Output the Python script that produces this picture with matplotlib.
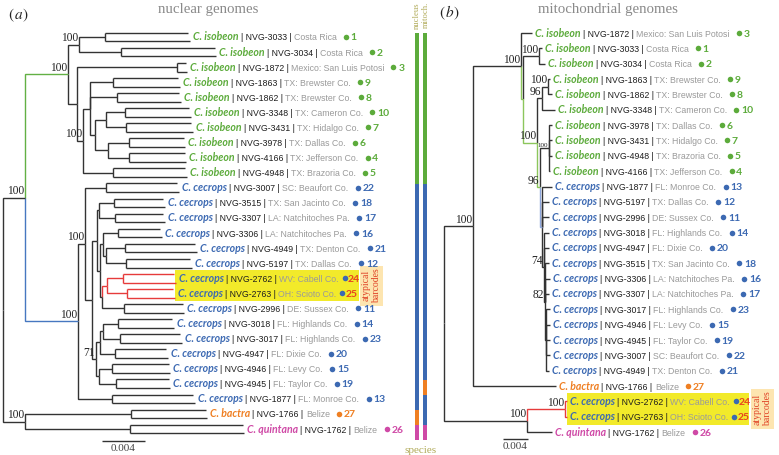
import matplotlib
matplotlib.use("Agg")
import matplotlib.pyplot as plt
from matplotlib.patches import Rectangle

plt.rcParams['mathtext.fontset'] = 'stix'

# ------------------------------------------------------------------ data
SPECIMENS = ["3033", "3034", "1872", "1863", "1862", "3348", "3431", "3978", "4166", "4948",
             "3007", "3515", "3307", "3306", "4949", "5197", "2762", "2763", "2996", "3018",
             "3017", "4947", "4946", "4945", "1877", "1766", "1762"]
SPECIES = ["C. isobeon"] * 10 + ["C. cecrops"] * 15 + ["C. bactra", "C. quintana"]
LOCATIONS = ["Costa Rica", "Costa Rica", "Mexico: San Luis Potosi", "TX: Brewster Co.",
             "TX: Brewster Co.", "TX: Cameron Co.", "TX: Hidalgo Co.", "TX: Dallas Co.",
             "TX: Jefferson Co.", "TX: Brazoria Co.", "SC: Beaufort Co.", "TX: San Jacinto Co.",
             "LA: Natchitoches Pa.", "LA: Natchitoches Pa.", "TX: Denton Co.", "TX: Dallas Co.",
             "WV: Cabell Co.", "OH: Scioto Co.", "DE: Sussex Co.", "FL: Highlands Co.",
             "FL: Highlands Co.", "FL: Dixie Co.", "FL: Levy Co.", "FL: Taylor Co.",
             "FL: Monroe Co.", "Belize", "Belize"]
MAP_NUMBERS = [1, 2, 3, 9, 8, 10, 7, 6, 4, 5, 22, 18, 17, 16, 21, 12, 24, 25, 11, 14,
               23, 20, 15, 19, 13, 27, 26]
ATYPICAL = ["2762", "2763"]

# depths in units of 0.001 substitutions/site
# nuclear tree tips: (node of the two phased haplotypes, tip a, tip b)
NUC_TIPS = {
    "3033": (9.49, 17.20, 17.39), "3034": (10.97, 19.70, 19.81), "1872": (16.18, 17.00, 17.11),
    "1863": (10.23, 16.30, 16.46), "1862": (10.60, 16.40, 16.55), "3348": (11.35, 17.30, 17.48),
    "3431": (11.44, 17.50, 17.67), "3978": (11.72, 16.80, 16.93), "4166": (11.72, 16.90, 17.02),
    "4948": (10.23, 16.95, 17.11), "3007": (9.58, 16.20, 16.37), "3515": (10.32, 14.90, 15.07),
    "3307": (10.42, 14.90, 15.07), "3306": (10.70, 14.60, 14.79), "4949": (11.35, 17.90, 18.04),
    "5197": (11.44, 17.40, 17.58), "2762": (11.16, 15.90, 16.09), "2763": (11.53, 15.85, 16.00),
    "2996": (11.25, 16.70, 16.83), "3018": (10.70, 15.75, 15.90), "3017": (10.88, 16.50, 16.65),
    "4947": (10.42, 15.20, 15.35), "4946": (10.14, 15.40, 15.53), "4945": (10.51, 15.40, 15.53),
    "1877": (10.14, 17.70, 17.86), "1766": (11.90, 18.85, 18.97), "1762": (11.81, 22.30, 22.41),
}
# internal node: (depth, bootstrap, highlighted branch, children)
NUC_TREE = (0.0, None, None, [
    (2.05, 100, None, [
        (6.05, 100, "green", [
            (7.07, 100, None, ["3033", "3034"]),
            (6.88, None, None, ["1872",
                (7.44, 100, None, [
                    (8.09, None, None, ["1863", "1862",
                        (8.56, None, None, [
                            (9.58, None, None, ["3348", "3431"]),
                            (9.77, None, None, ["3978", "4166"])])]),
                    "4948"])])]),
        (6.98, 100, "blue", [
            (7.63, 100, None, ["3007",
                (8.28, None, None, [
                    (8.74, None, None, [
                        (8.93, None, None, ["3515", "3307"]),
                        (9.02, None, None, [
                            (9.30, None, None, ["3306", (9.58, None, None, ["4949", "5197"])]),
                            (9.21, None, None, [(9.67, None, "red", ["2762", "2763"]), "2996"])])]),
                    (8.65, 71, None, [
                        (9.02, None, None, [(9.30, None, None, ["3018", "3017"]), "4947"]),
                        (8.93, None, None, ["4946", "4945"])])])]),
            "1877"])]),
    (2.05, 100, None, ["1766", "1762"])])

# mitochondrial tree tips: tip depth
MITO_TIPS = {
    "1872": 14.08, "3033": 15.68, "3034": 16.16, "1863": 16.96, "1862": 17.28, "3348": 17.76,
    "3978": 17.28, "3431": 17.28, "4948": 17.28, "4166": 16.96, "1877": 17.28, "5197": 16.80,
    "2996": 16.80, "3018": 16.80, "4947": 16.80, "3515": 16.80, "3306": 16.96, "3307": 16.80,
    "3017": 16.96, "4946": 16.96, "4945": 16.96, "3007": 16.96, "4949": 16.80, "1766": 17.92,
    "2762": 19.68, "2763": 19.68, "1762": 17.28,
}
MITO_TREE = (0.0, None, None, [
    (4.64, 100, None, [
        (12.32, 100, None, ["1872",
            (12.64, None, "green", [
                (15.20, 100, None, ["3033", "3034"]),
                (14.88, 100, "green", [
                    (15.68, 96, None, [(16.64, 100, None, ["1863", "1862"]), "3348"]),
                    (15.36, 96, "green", [
                        (16.80, 100, None, ["3978", "3431", "4948", "4166"], "small"),
                        (15.60, None, "blue", ["1877", "5197", "2996",
                            (15.92, 74, None, ["3018", "4947",
                                (16.16, 82, None, ["3515", "3306", "3307",
                                    (16.32, None, None, ["3017", "4946", "4945", "3007", "4949"])])])])])])])]),
        "1766"]),
    (13.28, 100, None, [(19.36, 100, "red", ["2762", "2763"]), "1762"])])

SCALE_LEN = 4.0   # 0.004 substitutions/site

# ------------------------------------------------------------------ style
SP_COL = {"C. isobeon": "#5cab3b", "C. cecrops": "#3c69b2", "C. bactra": "#ef7f22",
          "C. quintana": "#cf49a6"}
NUM_RED = "#e8421e"
LINE = "#333333"
PAL_L = {None: LINE, "green": "#62b044", "blue": "#4677c0", "red": "#e63b3b"}
PAL_R = {None: LINE, "green": "#8cc65c", "blue": "#8ea6db", "red": "#e63b3b"}

W, H = 779, 455
fig = plt.figure(figsize=(W / 100, H / 100), dpi=100)
axP = fig.add_axes([0, 0, 1, 1])
axP.set_xlim(0, W); axP.set_ylim(H, 0); axP.set_axis_off()
axL = fig.add_axes([0, 0, 1, 1]); axL.set_axis_off()
axR = fig.add_axes([0, 0, 1, 1]); axR.set_axis_off()

# layout: left tree root at px 3, 43 px per 0.004 ; rows from 37 px every 15.08 px
L_U, L_X0, L_Y0, L_DY = 4.0 / 43, 3, 37, 15.08
R_U, R_X0, R_Y0, R_DY = 4.0 / 25, 444, 33, 15.35
axL.set_xlim(-L_X0 * L_U, (W - L_X0) * L_U); axL.set_ylim((H - L_Y0) / L_DY, -L_Y0 / L_DY)
axR.set_xlim(-R_X0 * R_U, (W - R_X0) * R_U); axR.set_ylim((H - R_Y0) / R_DY, -R_Y0 / R_DY)

rend = fig.canvas.get_renderer()


def to_px(ax, x, y):
    X, Y = ax.transData.transform((x, y))
    return X, H - Y


def leaves_of(n):
    if isinstance(n, str):
        return [n]
    out = []
    for k in n[3]:
        out += leaves_of(k)
    return out


def draw_tree(ax, tree, pal, tip_depth, draw_tip, sup_size):
    order = leaves_of(tree)
    row = {s: i for i, s in enumerate(order)}
    tip_ends = {}

    def rec(n):
        if isinstance(n, str):
            return row[n]
        depth, sup, col, kids = n[:4]
        ys = [rec(k) for k in kids]
        y = (ys[0] + ys[-1]) / 2
        for k, yk in zip(kids, ys):
            if isinstance(k, str):
                kd = tip_depth(k)
                c = pal["red"] if (k in ATYPICAL and col == "red") else pal[None]
            else:
                kd = k[0]
                c = pal[k[2]] if k[2] else pal[None]
            ax.plot([depth, depth, kd], [y, yk, yk], color=c, lw=1.0,
                    solid_joinstyle="miter", solid_capstyle="butt")
            if isinstance(k, str):
                tip_ends[k] = draw_tip(ax, k, yk, c)
        if sup is not None:
            small = len(n) > 4
            ax.annotate(str(sup), xy=(depth, y), xytext=(-0.8, 0.3), textcoords="offset points",
                        ha="right", va="bottom", fontsize=(5.0 if small else sup_size),
                        family="Liberation Serif", color="#222222")
        return y

    rec(tree)
    return order, row, tip_ends


def nuc_tip(ax, k, y, c):
    node, a, b = NUC_TIPS[k]
    off = 0.29
    ax.plot([node, node], [y - off, y + off], color=c, lw=1.0, solid_capstyle="butt")
    ax.plot([node, a], [y - off, y - off], color=c, lw=1.0, solid_capstyle="butt")
    ax.plot([node, b], [y + off, y + off], color=c, lw=1.0, solid_capstyle="butt")
    return max(a, b)


def mito_tip(ax, k, y, c):
    return MITO_TIPS[k]


orderL, rowL, endsL = draw_tree(axL, NUC_TREE, PAL_L, lambda k: NUC_TIPS[k][0], nuc_tip, 8.3)
orderR, rowR, endsR = draw_tree(axR, MITO_TREE, PAL_R, lambda k: MITO_TIPS[k], mito_tip, 8.3)


# ------------------------------------------------------------------ labels
def leaf_label(x, y, sid):
    k = SPECIMENS.index(sid)
    sp = SPECIES[k]
    col = SP_COL[sp]
    base = y + 3.5
    t = axP.text(x, base, sp, color=col, family="Lato", weight="bold", style="italic",
                 fontsize=7.6, va="baseline", zorder=5)
    x = t.get_window_extent(rend).x1 + 2.2
    t = axP.text(x, base, "| NVG-%s |" % sid, color="#1e1e1e", family="Liberation Sans",
                 fontsize=6.35, va="baseline", zorder=5)
    x = t.get_window_extent(rend).x1 + 2.4
    t = axP.text(x, base, LOCATIONS[k], color="#9a9a9a", family="Liberation Sans",
                 fontsize=6.35, va="baseline", zorder=5)
    x = t.get_window_extent(rend).x1 + (3.5 if sid in ATYPICAL else 7.0)
    axP.plot([x + 2.2], [y], "o", ms=4.0, color=col, mec="none", zorder=5)
    x += 7.0 if sid not in ATYPICAL else 5.5
    axP.text(x, base, str(MAP_NUMBERS[k]), color=(NUM_RED if sid in ATYPICAL else col),
             family="Lato", weight="bold", fontsize=7.5, va="baseline", zorder=5)


for sid in orderL:
    px, py = to_px(axL, endsL[sid], rowL[sid])
    leaf_label(px + 3, py, sid)
for sid in orderR:
    px, py = to_px(axR, endsR[sid], rowR[sid])
    leaf_label(px + 3, py, sid)


# highlight boxes behind the atypical barcodes
def highlight(ax, row, ends, x_right, glow_x):
    ys = [to_px(ax, ends[s], row[s])[1] for s in ATYPICAL]
    x0 = min(to_px(ax, ends[s], row[s])[0] for s in ATYPICAL)
    axP.add_patch(Rectangle((x0, ys[0] - 8), x_right - x0, ys[-1] - ys[0] + 16,
                            facecolor="#f2ea2a", edgecolor="none", zorder=1))
    cy = (ys[0] + ys[-1]) / 2
    axP.add_patch(Rectangle((glow_x - 3, cy - 20), 23, 40, facecolor="#fde5b0",
                            edgecolor="none", zorder=1))
    for dx, s in ((0, "atypical"), (11, "barcodes")):
        axP.text(glow_x + 3 + dx, cy, s, rotation=90, ha="center", va="center",
                 family="Liberation Serif", fontsize=7, color="#e04428", zorder=5)


highlight(axL, rowL, endsL, 359, 363)
highlight(axR, rowR, endsR, 749, 754)

# scale bars
for ax, x0, yrow in ((axL, 102, 441), (axR, 503, 439)):
    if ax is axL:
        d0 = (x0 - L_X0) * L_U; r = (yrow - L_Y0) / L_DY
    else:
        d0 = (x0 - R_X0) * R_U; r = (yrow - R_Y0) / R_DY
    ax.plot([d0, d0 + SCALE_LEN], [r, r], color=LINE, lw=1.0, solid_capstyle="butt")
    cx, cy = to_px(ax, d0 + SCALE_LEN / 2, r)
    axP.text(cx, cy + 3, "%.3f" % (SCALE_LEN / 1000), ha="center", va="top",
             family="Liberation Serif", fontsize=8, color="#444444")

# species bars
BAR_TOP, BAR_DY = 33, 15.07
for xb, order in ((417, orderL), (425, orderR)):
    for i, s in enumerate(order):
        sp = SPECIES[SPECIMENS.index(s)]
        axP.bar(xb, BAR_DY + 0.3, bottom=BAR_TOP + i * BAR_DY, width=4.2,
                color=SP_COL[sp], edgecolor="none", zorder=2)
OLIVE = "#b0aa58"
axP.text(417, 2, "nucleus", rotation=90, ha="center", va="top", family="Liberation Serif",
         fontsize=6.2, color=OLIVE)
axP.text(425.5, 2, "mitoch.", rotation=90, ha="center", va="top", family="Liberation Serif",
         fontsize=6.2, color=OLIVE)
axP.text(421, 453, "species", ha="center", va="baseline", family="Liberation Serif",
         fontsize=8, color=OLIVE)

# titles
axP.text(208, 13, "nuclear genomes", ha="center", va="baseline", family="Liberation Serif",
         fontsize=10.7, color="#8a8a8a")
axP.text(608, 13, "mitochondrial genomes", ha="center", va="baseline",
         family="Liberation Serif", fontsize=10.7, color="#8a8a8a")
axP.text(8, 19, r"$(\,\mathit{a})$", ha="left", va="baseline", fontsize=11, color="#222222")
axP.text(439, 17, r"$(\,\mathit{b})$", ha="left", va="baseline", fontsize=11, color="#222222")

fig.savefig("out.png", dpi=100)
